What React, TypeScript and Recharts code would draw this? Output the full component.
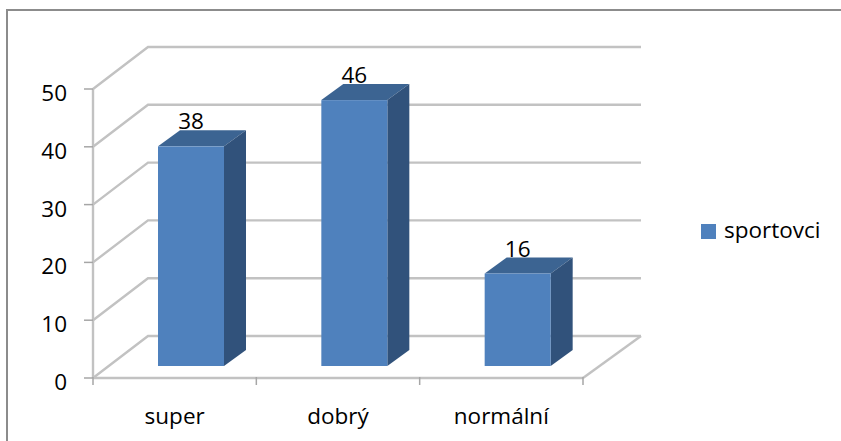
import React from "react";
import {
  BarChart,
  Bar,
  XAxis,
  YAxis,
  CartesianGrid,
  Legend,
  LabelList,
} from "recharts";

const categories = ["super", "dobrý", "normální"];
const sportovci = [38, 46, 16];
const yTicks = [0, 10, 20, 30, 40, 50];
const seriesName = "sportovci";

const rows = categories.map((name, i) => ({ name, [seriesName]: sportovci[i] }));

const FONT = "'Open Sans', sans-serif";
const FONT_SIZE = 22.5;
const GRID = "#c2c2c2";
const AXIS = "#a6a6a6";

const CHART_W = 841;
const CHART_H = 441;
const MARGIN = { top: 89, right: 258, bottom: 23, left: 33 };
const Y_AXIS_W = 60;
const BAND_W = (CHART_W - MARGIN.left - MARGIN.right - Y_AXIS_W) / categories.length;

// Wall depth of the pseudo-3D box and the bar's own depth and floor offset.
const WALL_DX = 55;
const WALL_RIGHT_DX = 58;
const WALL_DY = -42;
const BAR_DX = 22;
const BAR_DY = -16;
const FLOOR_DX = 16;
const FLOOR_DY = -12;

function WallLine(props: any) {
  const { x1, x2, y1, floorY } = props;
  const bx1 = x1 + WALL_DX;
  const bx2 = x2 + WALL_RIGHT_DX;
  const by = y1 + WALL_DY;
  return (
    <g>
      <polyline points={`${x1},${y1} ${bx1},${by} ${bx2},${by}`} fill="none" stroke={GRID} strokeWidth={2.4} />
      {y1 === floorY ? (
        <line x1={x2} y1={y1} x2={bx2} y2={by} stroke={GRID} strokeWidth={2.4} />
      ) : null}
    </g>
  );
}

// Category label centred in its band, with tick marks on the band boundaries.
function CategoryTick(props: any) {
  const { x, y, payload, index } = props;
  const left = x - BAND_W / 2;
  const right = x + BAND_W / 2;
  return (
    <g>
      <line x1={left} y1={y - 9} x2={left} y2={y - 1} stroke={AXIS} strokeWidth={1.5} />
      <line x1={right} y1={y - 9} x2={right} y2={y - 1} stroke={AXIS} strokeWidth={1.5} opacity={index === categories.length - 1 ? 1 : 0} />
      <text x={x} y={y + 38} textAnchor="middle" fontFamily={FONT} fontSize={FONT_SIZE} fill="#000">
        {payload.value}
      </text>
    </g>
  );
}

function Box(props: any) {
  const { x, y, width, height } = props;
  const l = x + FLOOR_DX;
  const r = l + width;
  const t = y + FLOOR_DY;
  const b = t + height;
  return (
    <g>
      <polygon points={`${l},${t} ${l + BAR_DX},${t + BAR_DY} ${r + BAR_DX},${t + BAR_DY} ${r},${t}`} fill="#3c6492" />
      <polygon points={`${r},${t} ${r + BAR_DX},${t + BAR_DY} ${r + BAR_DX},${b + BAR_DY} ${r},${b}`} fill="#31527b" />
      <rect x={l} y={t} width={width} height={height} fill="#4f81bd" />
    </g>
  );
}

function BoxLabel(props: any) {
  const { x, y, width, value } = props;
  return (
    <text
      x={x + FLOOR_DX + width / 2}
      y={y + FLOOR_DY + BAR_DY - 1}
      textAnchor="middle"
      fontFamily={FONT}
      fontSize={FONT_SIZE}
      fill="#000"
    >
      {value}
    </text>
  );
}

export default function App() {
  return (
    <div
      style={{
        position: "absolute",
        left: 0,
        top: 0,
        width: CHART_W,
        height: CHART_H,
        background: "#fff",
        overflow: "hidden",
      }}
    >
      <div
        style={{
          position: "absolute",
          left: 6,
          top: 9,
          width: 900,
          height: 500,
          borderLeft: "2px solid #8c8c8c",
          borderTop: "2px solid #8c8c8c",
        }}
      />
      <BarChart
        width={CHART_W}
        height={CHART_H}
        data={rows}
        margin={MARGIN}
        barSize={66}
        style={{ position: "absolute", left: 0, top: 0 }}
      >
        <CartesianGrid
          vertical={false}
          horizontal={(p: any) => <WallLine key={p.key ?? p.index} {...p} floorY={378} />}
        />
        <XAxis
          dataKey="name"
          height={40}
          interval={0}
          tickLine={false}
          axisLine={{ stroke: GRID, strokeWidth: 2.4 }}
          tick={CategoryTick}
        />
        <YAxis
          width={Y_AXIS_W}
          domain={[0, 50]}
          ticks={yTicks}
          interval={0}
          tickLine={{ stroke: AXIS, strokeWidth: 1.5 }}
          tickSize={9}
          axisLine={{ stroke: GRID, strokeWidth: 2.4 }}
          tick={{ fill: "#000", fontFamily: FONT, fontSize: FONT_SIZE, dy: 4 }}
          tickMargin={17}
        />
        <Legend
          layout="vertical"
          align="center"
          verticalAlign="middle"
          iconType="square"
          iconSize={15}
          wrapperStyle={{ left: 701, top: 214, width: 135, fontFamily: FONT, fontSize: FONT_SIZE }}
          formatter={(v: string) => <span style={{ color: "#000", marginLeft: 4 }}>{v}</span>}
        />
        <Bar dataKey={seriesName} fill="#4f81bd" shape={Box} isAnimationActive={false}>
          <LabelList dataKey={seriesName} content={BoxLabel} />
        </Bar>
      </BarChart>
    </div>
  );
}
